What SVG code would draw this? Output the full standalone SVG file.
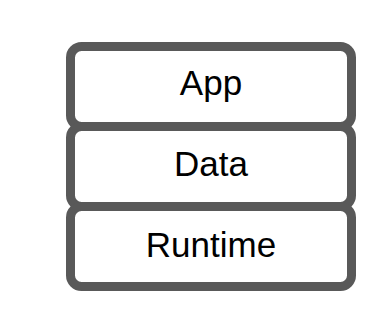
<svg xmlns="http://www.w3.org/2000/svg" width="392" height="318" viewBox="0 0 392 318">
<style>
.box{fill:#ffffff;stroke:#595959;stroke-width:9}
.lbl{font-family:"Liberation Sans",Arial,sans-serif;font-size:35px;fill:#000000;text-anchor:middle}
</style>
<rect width="392" height="318" fill="#ffffff"/>
<g id="app"><rect class="box" x="70.5" y="46.5" width="281" height="80" rx="11"/><text class="lbl" x="211" y="94.5">App</text></g>
<g id="data"><rect class="box" x="70.5" y="126.5" width="281" height="80" rx="11"/><text class="lbl" x="211" y="176">Data</text></g>
<g id="runtime"><rect class="box" x="70.5" y="206.5" width="281" height="80" rx="11"/><text class="lbl" x="211" y="257">Runtime</text></g>
<g id="connectors"></g>
</svg>
